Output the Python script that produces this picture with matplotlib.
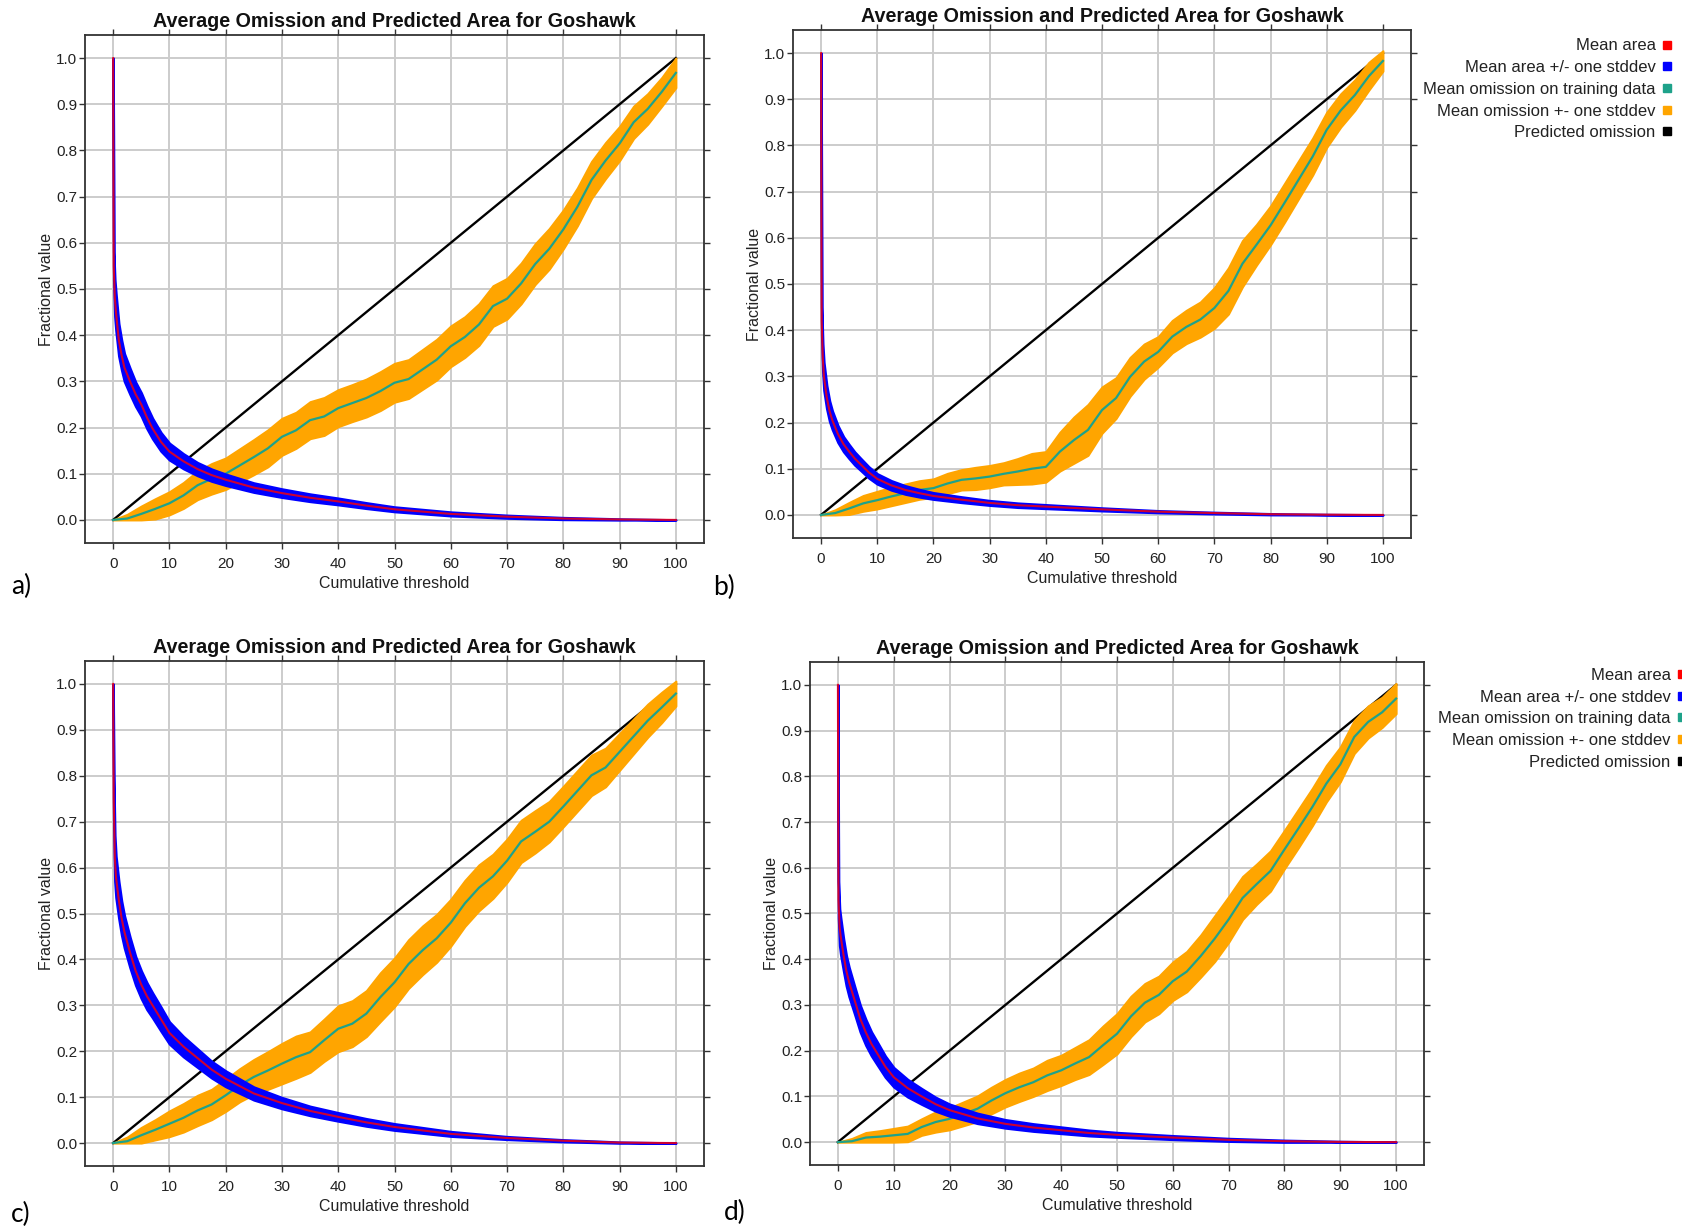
import numpy as np
import matplotlib.pyplot as plt
from matplotlib.lines import Line2D
from matplotlib.ticker import FormatStrFormatter

plt.rcParams['font.family'] = ['Liberation Sans', 'DejaVu Sans']

W, H = 1682, 1229

# cumulative threshold (x) at which the curves are sampled
omit_thr = np.arange(0, 100.1, 2.5)
area_thr = [0, 0.1, 0.3, 0.5, 1, 1.5, 2, 3, 4, 5, 6, 7, 8.5, 10, 12.5, 15, 17.5, 20, 25, 30,
            35, 40, 45, 50, 60, 70, 80, 90, 100]
pred_thr = [0, 100]
pred_omit = [0, 1]

# run a)
area_a = [1.0, 0.55, 0.48, 0.45, 0.39, 0.357, 0.33, 0.30, 0.272, 0.25, 0.222, 0.198, 0.169,
          0.148, 0.127, 0.11, 0.097, 0.087, 0.07, 0.058, 0.048, 0.04, 0.031, 0.023, 0.013,
          0.007, 0.003, 0.001, 0.0]
area_sd_a = [0, 0.03, 0.04, 0.04, 0.035, 0.032, 0.03, 0.028, 0.026, 0.025, 0.024, 0.022, 0.02,
             0.018, 0.016, 0.014, 0.013, 0.012, 0.01, 0.009, 0.008, 0.007, 0.006, 0.005, 0.004,
             0.003, 0.002, 0.001, 0]
omit_a = [0, 0.003, 0.013, 0.024, 0.036, 0.053, 0.075, 0.089, 0.10, 0.118, 0.136, 0.155, 0.18,
          0.194, 0.216, 0.224, 0.242, 0.253, 0.264, 0.279, 0.297, 0.305, 0.326, 0.347, 0.376,
          0.396, 0.423, 0.463, 0.479, 0.512, 0.554, 0.587, 0.629, 0.678, 0.736, 0.778, 0.815,
          0.861, 0.89, 0.927, 0.968]
omit_sd_a = [0, 0.009, 0.017, 0.022, 0.025, 0.028, 0.031, 0.033, 0.034, 0.036, 0.038, 0.04,
             0.04, 0.039, 0.04, 0.041, 0.04, 0.04, 0.041, 0.042, 0.042, 0.042, 0.043, 0.044,
             0.044, 0.044, 0.045, 0.044, 0.044, 0.044, 0.044, 0.044, 0.042, 0.041, 0.04, 0.039,
             0.037, 0.035, 0.033, 0.031, 0.032]

# run b)
area_b = [1.0, 0.42, 0.34, 0.30, 0.255, 0.225, 0.205, 0.175, 0.153, 0.137, 0.122, 0.11, 0.092,
          0.078, 0.064, 0.054, 0.047, 0.041, 0.033, 0.026, 0.021, 0.018, 0.015, 0.012, 0.007,
          0.004, 0.0015, 0.0005, 0.0]
area_sd_b = [0, 0.03, 0.03, 0.03, 0.025, 0.022, 0.02, 0.018, 0.016, 0.015, 0.014, 0.013, 0.012,
             0.011, 0.01, 0.009, 0.008, 0.007, 0.006, 0.005, 0.0045, 0.004, 0.0035, 0.003,
             0.002, 0.0015, 0.001, 0.0005, 0]
omit_b = [0, 0.004, 0.014, 0.025, 0.032, 0.04, 0.047, 0.054, 0.058, 0.068, 0.076, 0.079, 0.083,
          0.089, 0.094, 0.10, 0.104, 0.137, 0.162, 0.184, 0.227, 0.253, 0.299, 0.332, 0.353,
          0.386, 0.407, 0.423, 0.448, 0.485, 0.544, 0.585, 0.627, 0.676, 0.726, 0.776, 0.834,
          0.876, 0.909, 0.95, 0.983]
omit_sd_b = [0, 0.007, 0.013, 0.017, 0.019, 0.02, 0.02, 0.02, 0.02, 0.022, 0.022, 0.024, 0.024,
             0.024, 0.028, 0.033, 0.033, 0.042, 0.05, 0.055, 0.05, 0.044, 0.042, 0.038, 0.033,
             0.035, 0.036, 0.038, 0.044, 0.05, 0.05, 0.044, 0.042, 0.042, 0.041, 0.04, 0.038,
             0.036, 0.033, 0.03, 0.022]

# run c)
area_c = [1.0, 0.75, 0.62, 0.58, 0.53, 0.49, 0.46, 0.415, 0.375, 0.345, 0.32, 0.30, 0.27, 0.24,
          0.21, 0.185, 0.16, 0.14, 0.108, 0.087, 0.07, 0.057, 0.045, 0.035, 0.02, 0.011, 0.005,
          0.001, 0.0]
area_sd_c = [0, 0.05, 0.05, 0.045, 0.04, 0.037, 0.035, 0.033, 0.031, 0.03, 0.029, 0.027, 0.026,
             0.024, 0.022, 0.02, 0.018, 0.017, 0.014, 0.012, 0.01, 0.009, 0.008, 0.007, 0.005,
             0.003, 0.002, 0.001, 0]
omit_c = [0, 0.004, 0.017, 0.029, 0.042, 0.055, 0.071, 0.084, 0.104, 0.126, 0.144, 0.158, 0.173,
          0.187, 0.198, 0.224, 0.249, 0.26, 0.282, 0.318, 0.35, 0.39, 0.42, 0.446, 0.48, 0.522,
          0.556, 0.581, 0.615, 0.657, 0.678, 0.70, 0.733, 0.767, 0.801, 0.818, 0.852, 0.886,
          0.92, 0.949, 0.979]
omit_sd_c = [0, 0.009, 0.017, 0.022, 0.028, 0.031, 0.033, 0.033, 0.035, 0.036, 0.038, 0.041,
             0.044, 0.046, 0.044, 0.046, 0.05, 0.05, 0.05, 0.053, 0.053, 0.053, 0.053, 0.052,
             0.051, 0.05, 0.05, 0.048, 0.047, 0.046, 0.046, 0.044, 0.044, 0.044, 0.044, 0.042,
             0.04, 0.038, 0.036, 0.033, 0.027]

# run d)
area_d = [1.0, 0.53, 0.47, 0.45, 0.41, 0.375, 0.35, 0.31, 0.27, 0.24, 0.215, 0.195, 0.165,
          0.142, 0.118, 0.10, 0.083, 0.07, 0.052, 0.04, 0.032, 0.026, 0.02, 0.016, 0.01, 0.005,
          0.002, 0.0005, 0.0]
area_sd_d = [0, 0.04, 0.04, 0.04, 0.035, 0.033, 0.032, 0.03, 0.029, 0.028, 0.026, 0.025, 0.023,
             0.021, 0.019, 0.017, 0.015, 0.013, 0.011, 0.009, 0.008, 0.007, 0.006, 0.005, 0.004,
             0.003, 0.002, 0.001, 0]
omit_d = [0, 0.002, 0.01, 0.012, 0.015, 0.018, 0.033, 0.044, 0.051, 0.062, 0.073, 0.091, 0.107,
          0.12, 0.131, 0.146, 0.157, 0.172, 0.186, 0.212, 0.237, 0.275, 0.305, 0.322, 0.352,
          0.373, 0.407, 0.445, 0.487, 0.534, 0.564, 0.593, 0.64, 0.686, 0.733, 0.784, 0.826,
          0.886, 0.919, 0.94, 0.97]
omit_sd_d = [0, 0.006, 0.011, 0.013, 0.015, 0.017, 0.018, 0.022, 0.024, 0.026, 0.028, 0.029,
             0.03, 0.031, 0.031, 0.033, 0.033, 0.035, 0.038, 0.042, 0.044, 0.044, 0.042, 0.041,
             0.042, 0.044, 0.046, 0.05, 0.05, 0.047, 0.044, 0.044, 0.042, 0.042, 0.041, 0.04,
             0.038, 0.036, 0.035, 0.033, 0.033]

legend_labels = ['Mean area', 'Mean area +/- one stddev', 'Mean omission on training data',
                 'Mean omission +- one stddev', 'Predicted omission']

RED = '#ff0000'
BLUE = '#0000ff'
TEAL = '#1ea28a'
ORANGE = '#ffa500'
TXT = '#222222'


def draw_panel(ax, area, area_sd, omit, omit_sd):
    area = np.array(area)
    area_sd = np.array(area_sd)
    omit = np.array(omit)
    omit_sd = np.array(omit_sd)

    ax.plot(pred_thr, pred_omit, color='black', lw=1.7, zorder=3)
    ax.fill_between(omit_thr, np.clip(omit - omit_sd, 0, None), omit + omit_sd,
                    color=ORANGE, lw=1.5, edgecolor=ORANGE, zorder=4)
    ax.plot(omit_thr, omit, color=TEAL, lw=1.6, zorder=5)
    ax.fill_between(area_thr, np.clip(area - area_sd, 0, None), area + area_sd,
                    color=BLUE, lw=1.8, edgecolor=BLUE, zorder=6)
    ax.plot(area_thr, area, color=RED, lw=1.5, alpha=0.8, zorder=7)

    ax.set_xlim(-5, 105)
    ax.set_ylim(-0.05, 1.05)
    ax.set_xticks(range(0, 101, 10))
    ax.set_yticks(np.arange(0, 1.01, 0.1))
    ax.yaxis.set_major_formatter(FormatStrFormatter('%.1f'))
    ax.grid(color='#cccccc', lw=1.4)
    ax.set_axisbelow(True)
    for s in ax.spines.values():
        s.set_linewidth(1.3)
        s.set_color('#333333')
    ax.tick_params(axis='both', direction='out', length=4, width=1, colors='#333333',
                   labelsize=11, labelcolor=TXT, top=True, right=True)
    ax.tick_params(axis='x', pad=6)
    ax.tick_params(axis='y', pad=1.5)
    ax.set_title('Average Omission and Predicted Area for Goshawk', fontsize=14.2,
                 fontweight='bold', pad=6, color='#111111')
    ax.set_xlabel('Cumulative threshold', fontsize=11.5, color=TXT, labelpad=4)
    ax.set_ylabel('Fractional value', fontsize=11.5, color=TXT, labelpad=1.5)


fig = plt.figure(figsize=(W / 100, H / 100), dpi=100)

panels = [
    ('a)', (85, 35, 704, 543), (21, 586), area_a, area_sd_a, omit_a, omit_sd_a),
    ('b)', (793, 30, 1411, 538), (724, 587), area_b, area_sd_b, omit_b, omit_sd_b),
    ('c)', (85, 661, 704, 1166), (21, 1214), area_c, area_sd_c, omit_c, omit_sd_c),
    ('d)', (810, 662, 1424, 1165), (735, 1212), area_d, area_sd_d, omit_d, omit_sd_d),
]

for tag, (l, t, r, b), (tx, ty), area, area_sd, omit, omit_sd in panels:
    ax = fig.add_axes([l / W, 1 - b / H, (r - l) / W, (b - t) / H])
    draw_panel(ax, area, area_sd, omit, omit_sd)
    fig.text(tx / W, 1 - ty / H, tag, fontsize=19, family=['Lato', 'DejaVu Sans'],
             ha='center', va='center', color='black')

handles = [Line2D([], [], ls='', marker='s', markersize=5.5, color=c)
           for c in [RED, BLUE, TEAL, ORANGE, 'black']]

# legends sit to the right of panels b) and d)
for right, top in [(1674, 38.5), (1689, 668)]:
    fig.legend(handles, legend_labels, loc='upper right',
               bbox_to_anchor=(right / W, 1 - top / H), frameon=False,
               markerfirst=False, fontsize=12, labelcolor=TXT, handlelength=0.8,
               handletextpad=0.3, labelspacing=0.4, borderpad=0, borderaxespad=0)

fig.savefig('out.png', dpi=100)
